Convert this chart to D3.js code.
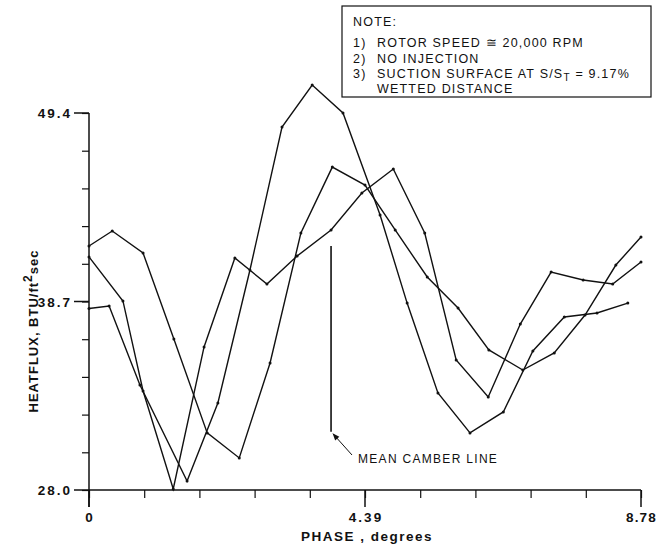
<!DOCTYPE html>
<html><head><meta charset="utf-8">
<script src="https://cdn.jsdelivr.net/npm/d3@7"></script>
<style>
html,body{margin:0;padding:0;background:#fff;}
svg text{font-family:"Liberation Sans",Arial,Helvetica,sans-serif;fill:#111;}
</style></head>
<body><svg id="c" width="657" height="545"></svg>
<script>
// ---- data ----
const xTickLabels = ["0", "4.39", "8.78"];
const xTickValues = [0, 4.39, 8.78];
const yTickLabels = ["28.0", "38.7", "49.4"];
const yTickValues = [28.0, 38.7, 49.4];

const phaseA = [0, 0.37, 0.86, 1.35, 1.88, 2.39, 2.88, 3.37, 3.87, 4.39, 4.87, 5.38, 5.87, 6.36, 6.90, 7.40, 7.89, 8.38, 8.78];
const fluxA  = [41.85, 42.70, 41.45, 36.57, 31.24, 29.82, 35.21, 42.59, 46.33, 45.31, 42.76, 40.09, 38.33, 35.95, 34.81, 35.78, 37.93, 40.77, 42.36];

const phaseB = [0, 0.54, 0.86, 1.34, 1.83, 2.32, 2.83, 3.31, 3.85, 4.34, 4.84, 5.34, 5.84, 6.35, 6.86, 7.35, 7.86, 8.33, 8.78];
const fluxB  = [41.23, 38.73, 33.62, 28.06, 36.12, 41.17, 39.69, 41.28, 42.76, 44.86, 46.22, 42.59, 35.38, 33.28, 37.42, 40.37, 39.92, 39.69, 40.94];

const phaseC = [0, 0.32, 0.81, 1.56, 2.05, 2.56, 3.07, 3.55, 4.04, 4.63, 5.06, 5.55, 6.06, 6.59, 7.06, 7.56, 8.08, 8.57];
const fluxC  = [38.30, 38.44, 33.96, 28.51, 32.94, 40.49, 48.60, 50.99, 49.40, 43.61, 38.61, 33.51, 31.24, 32.43, 35.89, 37.82, 38.05, 38.61];

const camberPhase = 3.85;
const camberTop = 41.85;
const camberBottom = 31.3;

const noteNums = ["NOTE:", "1)", "2)", "3)"];
const noteTexts = ["", "ROTOR SPEED \u2245 20,000 RPM", "NO INJECTION", "SUCTION SURFACE AT S/S"];

// ---- drawing ----
const svg = d3.select("#c");
const x = d3.scaleLinear().domain([0, 8.78]).range([89, 641]);
const y = d3.scaleLinear().domain([28, 49.4]).range([490, 113]);
const ink = "#111";

// minor ticks
const xMinor = d3.range(0, 11).map(i => i * 8.78 / 10);
const yMinor = d3.range(0, 11).map(i => 28 + i * 21.4 / 10);

const gx = svg.append("g").attr("transform", `translate(0,${y(28)})`)
  .call(d3.axisBottom(x).tickValues(xMinor).tickSize(8).tickFormat(""));
const gy = svg.append("g").attr("transform", `translate(${x(0)},0)`)
  .call(d3.axisLeft(y).tickValues(yMinor).tickSize(7).tickFormat(""));
[gx, gy].forEach(g => {
  g.select(".domain").remove();
  g.selectAll("line").attr("stroke", ink).attr("stroke-width", 1.2);
});

// axis lines
svg.append("line").attr("x1", x(0)).attr("x2", x(0)).attr("y1", y(49.4)).attr("y2", y(28) + 17)
  .attr("stroke", ink).attr("stroke-width", 1.5);
svg.append("line").attr("x1", x(0)).attr("x2", x(8.78)).attr("y1", y(28)).attr("y2", y(28))
  .attr("stroke", ink).attr("stroke-width", 1.5);

// labelled x ticks
xTickValues.forEach((v, i) => {
  svg.append("line").attr("x1", x(v)).attr("x2", x(v)).attr("y1", y(28)).attr("y2", y(28) + 17)
    .attr("stroke", ink).attr("stroke-width", 1.5);
  const last = i === xTickValues.length - 1;
  svg.append("text").attr("x", last ? 657 : x(v) + 1).attr("y", y(28) + 32)
    .attr("text-anchor", last ? "end" : "middle")
    .attr("font-size", 13.5).attr("font-weight", "bold").attr("letter-spacing", last ? 1.2 : 2).text(xTickLabels[i]);
});
// labelled y ticks
yTickValues.forEach((v, i) => {
  svg.append("line").attr("x1", x(0) - 15).attr("x2", x(0)).attr("y1", y(v)).attr("y2", y(v))
    .attr("stroke", ink).attr("stroke-width", 1.5);
  svg.append("text").attr("x", 72).attr("y", y(v) + 5).attr("text-anchor", "end")
    .attr("font-size", 13.5).attr("font-weight", "bold").attr("letter-spacing", 2).text(yTickLabels[i]);
});

// axis titles
svg.append("text").attr("x", 367).attr("y", 541).attr("text-anchor", "middle")
  .attr("font-size", 13.5).attr("font-weight", "bold").attr("letter-spacing", 1.5).text("PHASE , degrees");
const yt = svg.append("text").attr("transform", "translate(38,331) rotate(-90)").attr("text-anchor", "middle")
  .attr("font-size", 13).attr("font-weight", "bold").attr("letter-spacing", 1.0);
yt.append("tspan").text("HEATFLUX, BTU/ft");
yt.append("tspan").attr("dy", -6).attr("font-size", 12).text("2");
yt.append("tspan").attr("dy", 6).text("sec");

// series
const line = d3.line().x(d => x(d[0])).y(d => y(d[1]));
[[phaseA, fluxA], [phaseB, fluxB], [phaseC, fluxC]].forEach(([ph, fl]) => {
  const pts = ph.map((p, i) => [p, fl[i]]);
  svg.append("path").datum(pts).attr("d", line).attr("fill", "none")
    .attr("stroke", ink).attr("stroke-width", 1.4).attr("stroke-linejoin", "miter");
  svg.append("g").selectAll("circle").data(pts).join("circle")
    .attr("cx", d => x(d[0])).attr("cy", d => y(d[1])).attr("r", 1.5).attr("fill", ink);
});

// mean camber line
svg.append("line").attr("x1", x(camberPhase)).attr("x2", x(camberPhase))
  .attr("y1", y(camberTop)).attr("y2", y(camberBottom)).attr("stroke", ink).attr("stroke-width", 1.6);
svg.append("defs").append("marker").attr("id", "ah").attr("viewBox", "0 0 10 10")
  .attr("refX", 9).attr("refY", 5).attr("markerWidth", 9).attr("markerHeight", 7).attr("orient", "auto")
  .append("path").attr("d", "M0,1 L10,5 L0,9 Z").attr("fill", ink);
svg.append("line").attr("x1", 352).attr("y1", 455).attr("x2", x(camberPhase) + 2).attr("y2", y(camberBottom) + 2)
  .attr("stroke", ink).attr("stroke-width", 1).attr("marker-end", "url(#ah)");
svg.append("text").attr("x", 358).attr("y", 463).attr("font-size", 12).attr("letter-spacing", 1.3)
  .text("MEAN CAMBER LINE");

// note box
svg.append("rect").attr("x", 342).attr("y", 6).attr("width", 309).attr("height", 91)
  .attr("fill", "#fff").attr("stroke", ink).attr("stroke-width", 1.2);
const fs = 12.5, ls = 1.2;
const nys = [26, 47, 63, 78];
noteNums.forEach((t, i) => {
  svg.append("text").attr("x", 353).attr("y", nys[i]).attr("font-size", fs).attr("letter-spacing", ls).text(t);
  if (noteTexts[i]) {
    const tt = svg.append("text").attr("x", 377).attr("y", nys[i]).attr("font-size", fs).attr("letter-spacing", ls);
    tt.append("tspan").text(noteTexts[i]);
    if (i === 3) {
      tt.append("tspan").attr("dy", 3).attr("font-size", 10).text("T");
      tt.append("tspan").attr("dy", -3).text(" = 9.17%");
    }
  }
});
svg.append("text").attr("x", 377).attr("y", 93).attr("font-size", fs).attr("letter-spacing", ls).text("WETTED DISTANCE");
</script></body></html>
